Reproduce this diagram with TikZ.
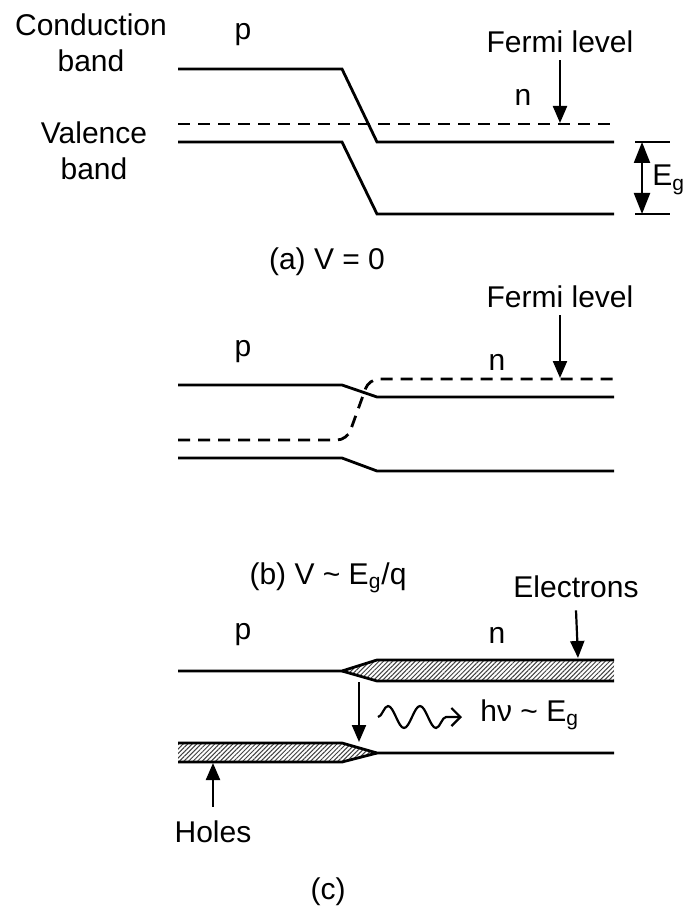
\documentclass[tikz,border=0pt]{standalone}
\usepackage{fontspec}
\setmainfont{Liberation Sans}
\usetikzlibrary{arrows.meta, decorations.pathmorphing, patterns.meta, positioning}
\tikzset{
	bandline/.style={
			line width=1.4pt,
			line join=miter
		},
	fermiline/.style={
			line width=1.4pt,
			dash pattern=on 6pt off 4pt
		},
	labelnode/.style={
			font=\fontsize{15}{18}\selectfont,
			inner sep=0pt,
			align=center
		},
	pointer/.style={
			line width=1.1pt,
			-{Triangle[length=8.5pt, width=7pt]}
		},
	gaparrow/.style={
			line width=1.1pt,
			{Triangle[length=10.5pt, width=8pt]}-{Triangle[length=10.5pt, width=8pt]}
		},
	carriers/.style={
			pattern={Lines[angle=45, distance=1.6pt, line width=0.5pt]},
			pattern color=black!75
		},
	photon/.style={
			line width=1.1pt,
			decorate,
			decoration={snake, amplitude=5.5pt, segment length=16pt, post length=5pt},
			-{Straight Barb[length=4.5pt, width=9pt]}
		}
}

\begin{document}
\begin{tikzpicture}[x=0.5pt, y=-0.5pt]
\useasboundingbox (0,0) rectangle (686,909);

% (a) V = 0
\node[labelnode] (lblCB) at (91,43) {Conduction\\band};
\node[labelnode] (lblVB) at (94,151) {Valence\\band};
\node[labelnode] (pA) at (243,35) {p};
\node[labelnode] (nA) at (523,97) {n};
\node[labelnode] (fermiA) at (560,42) {Fermi level};
\node[labelnode, anchor=west] (egA) at (652,180) {E\textsubscript{g}};
\node[labelnode] (capA) at (327,262) {(a) V = 0};

\draw[bandline] (178,69) -- (342,69) -- (377,142) -- (614,142);
\draw[bandline] (178,142) -- (342,142) -- (377,214) -- (614,214);
\draw[fermiline] (178,124) -- (614,124);
\draw[bandline] (635,142) -- (670,142);
\draw[bandline] (635,214) -- (670,214);

\coordinate (fA) at (560,123);
\coordinate (gapTop) at (642,142);
\coordinate (gapBot) at (642,214);
\draw[pointer] ([yshift=-3.5pt]fermiA.south) -- (fA);
\draw[gaparrow] (gapTop) -- (gapBot);

% (b) V ~ Eg/q
\node[labelnode] (pB) at (243,352) {p};
\node[labelnode] (nB) at (497,362) {n};
\node[labelnode] (fermiB) at (560,297) {Fermi level};
\node[labelnode] (capB) at (328,578) {(b) V \textasciitilde{} E\textsubscript{g}/q};

\draw[bandline] (178,385) -- (342,385) -- (377,397) -- (614,397);
\draw[bandline] (178,458) -- (342,458) -- (377,471) -- (614,471);
\draw[fermiline, rounded corners=5pt] (178,440) -- (347,440) -- (369,379) -- (614,379);

\coordinate (fB) at (560,378);
\draw[pointer] ([yshift=-3.5pt]fermiB.south) -- (fB);

% (c)
\node[labelnode] (pC) at (243,635) {p};
\node[labelnode] (nC) at (497,635) {n};
\node[labelnode] (elec) at (576,587) {Electrons};
\node[labelnode] (holes) at (213,832) {Holes};
\node[labelnode, anchor=west] (hv) at (480,715) {hν \textasciitilde{} E\textsubscript{g}};
\node[labelnode] (capC) at (328,892) {(c)};

\fill[carriers] (342,671) -- (377,660) -- (614,660) -- (614,681) -- (377,681) -- cycle;
\fill[carriers] (178,743) -- (342,743) -- (377,753) -- (342,762) -- (178,762) -- cycle;
\draw[bandline] (178,671) -- (342,671) -- (377,660) -- (614,660);
\draw[bandline] (342,671) -- (377,681) -- (614,681);
\draw[bandline] (178,743) -- (342,743) -- (377,753) -- (614,753);
\draw[bandline] (178,762) -- (342,762) -- (377,753);

\coordinate (eTip) at (578,658);
\coordinate (hTip) at (213,763);
\coordinate (dropTop) at (359,682);
\coordinate (dropBot) at (359,742);
\coordinate (waveStart) at (378,717);
\coordinate (waveEnd) at (462,717);
\draw[pointer] ([yshift=-6pt]elec.south) -- (eTip);
\draw[pointer] ([yshift=7pt]holes.north) -- (hTip);
\draw[pointer] (dropTop) -- (dropBot);
\draw[photon] (waveStart) -- (waveEnd);

\end{tikzpicture}
\end{document}
